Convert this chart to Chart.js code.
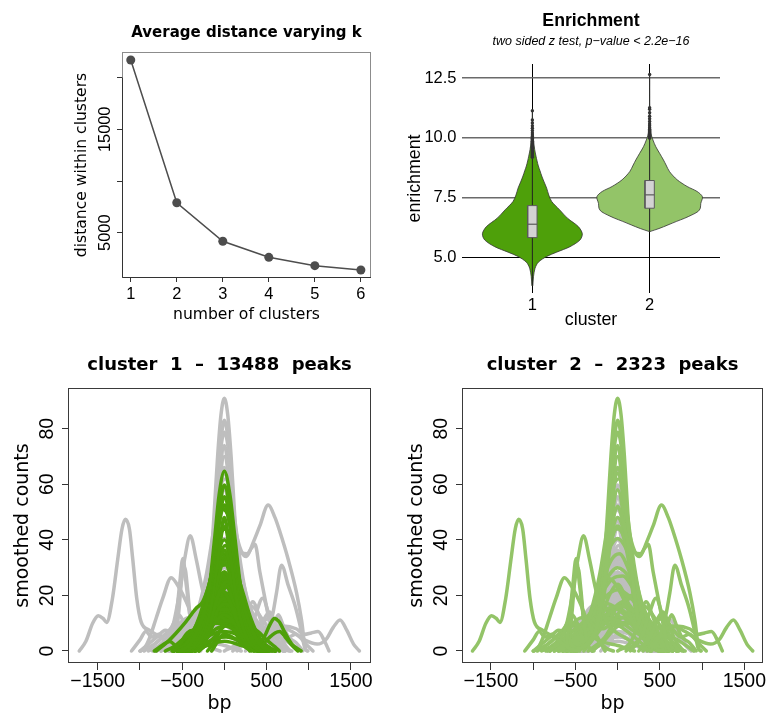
<!DOCTYPE html>
<html>
<head>
<meta charset="utf-8">
<script src="https://cdn.jsdelivr.net/npm/chart.js@4.4.1/dist/chart.umd.min.js"></script>
<style>
  body { margin: 0; background: #fff; }
  #wrap { position: relative; width: 771px; height: 718px; }
  #wrap canvas { position: absolute; }
</style>
</head>
<body>
<div id="wrap">
  <canvas id="elbow" width="385" height="340" style="left:0;top:0"></canvas>
  <canvas id="violin" width="386" height="340" style="left:385px;top:0"></canvas>
  <canvas id="peaks1" width="385" height="378" style="left:0;top:340px"></canvas>
  <canvas id="peaks2" width="386" height="378" style="left:385px;top:340px"></canvas>
</div>
<script>
// ---- elbow plot ----
const kValues = [1, 2, 3, 4, 5, 6];
const withinDistance = [21700, 7900, 4170, 2620, 1810, 1390];
const distanceTicks = [5000, 10000, 15000, 20000];
const distanceLabels = [5000, 15000];

// ---- enrichment violins ----
const clusterIds = [1, 2];
const enrichTicks = [5, 7.5, 10, 12.5];
const violinLevels1 = [3.8, 4.2, 4.54, 4.79, 5.03, 5.21, 5.44, 5.72, 5.98, 6.28, 6.63, 6.98, 7.33, 7.6, 7.89, 8.15, 8.4, 8.62, 8.82, 9.03, 9.23, 9.5, 9.8, 10.2, 10.6, 11.1];
const violinHalf1 = [0.004, 0.01, 0.023, 0.051, 0.122, 0.207, 0.321, 0.406, 0.426, 0.392, 0.3, 0.233, 0.165, 0.14, 0.122, 0.1, 0.08, 0.065, 0.051, 0.04, 0.031, 0.02, 0.012, 0.006, 0.003, 0];
const violinLevels2 = [6.07, 6.2, 6.35, 6.5, 6.63, 6.77, 6.91, 7.05, 7.25, 7.53, 7.75, 7.96, 8.24, 8.58, 8.86, 9.07, 9.35, 9.63, 9.91, 10.12, 10.5, 11.0, 11.5, 12.65];
const violinHalf2 = [0, 0.08, 0.156, 0.23, 0.298, 0.36, 0.412, 0.432, 0.436, 0.45, 0.405, 0.32, 0.235, 0.17, 0.14, 0.118, 0.085, 0.052, 0.028, 0.014, 0.006, 0.003, 0.001, 0];
// lower whisker, q1, median, q3, upper whisker
const boxStats1 = [3.8, 5.82, 6.38, 7.16, 9.15];
const boxStats2 = [6.07, 7.05, 7.61, 8.21, 9.95];
const outliers1 = [9.18, 9.22, 9.26, 9.3, 9.34, 9.38, 9.42, 9.46, 9.5, 9.55, 9.6, 9.65, 9.7, 9.75, 9.8, 9.86, 9.92, 9.98, 10.05, 10.12, 10.2, 10.3, 10.4, 10.5, 10.62, 10.75, 11.13];
const outliers2 = [9.98, 10.02, 10.06, 10.1, 10.15, 10.2, 10.25, 10.3, 10.36, 10.42, 10.5, 10.58, 10.68, 10.8, 10.9, 11.05, 11.2, 11.26, 12.65];

// ---- peak profiles (bp, smoothed count) ----
const peakTotals = [13488, 2323];
const bpTicks = [-1500, -1000, -500, 0, 500, 1000, 1500];
const bpLabels = [-1500, -500, 500, 1500];
const countTicks = [0, 20, 40, 60, 80];

const cluster1Profiles = [
  [[-550,0],[-420,2],[-295,9.4],[-190,20],[-115,40.5],[-63,56],[0,64.7],[67,56],[126,40.5],[206,20],[304,9.4],[430,2],[560,0]],
  [[-520,0],[-400,2],[-280,8.5],[-185,19],[-110,37],[-55,52],[0,59.7],[60,52],[120,37],[195,19],[290,8],[410,2],[530,0]],
  [[-480,0],[-360,2],[-250,9],[-170,20],[-100,36],[-50,49],[0,55.5],[55,49],[110,35],[180,19],[260,8.5],[370,2],[490,0]],
  [[-600,0],[-450,2.5],[-310,9],[-200,19],[-120,34],[-55,47],[0,52.5],[55,47],[125,34],[210,18],[320,8],[460,2],[610,0]],
  [[-450,0],[-330,2],[-230,8],[-150,18],[-80,33],[0,44.7],[80,33],[150,18],[230,8],[330,2],[450,0]],
  [[-500,0],[-360,3],[-250,9],[-160,19],[-80,30],[0,36.3],[80,30],[160,19],[250,9],[360,3],[500,0]],
  [[-420,0],[-300,3],[-200,10],[-110,22],[0,32],[110,22],[200,10],[300,3],[420,0]],
  [[-470,0],[-340,3],[-220,10],[-120,20],[0,28.5],[120,20],[220,10],[340,3],[470,0]],
  [[-400,0],[-280,3],[-170,10],[-70,20],[30,25],[130,20],[230,10],[330,3],[450,0]],
  [[-500,0],[-350,3],[-230,9],[-130,17],[-40,22],[60,18],[160,10],[280,3],[420,0]],
  [[-450,0],[-300,4],[-180,11],[-80,17],[0,19],[80,17],[180,11],[300,4],[450,0]],
  [[-380,0],[-250,4],[-140,11],[-50,16],[20,17],[100,14],[200,8],[320,2],[430,0]],
  [[-520,0],[-360,3],[-220,9],[-100,14],[0,15],[100,14],[220,9],[360,3],[520,0]],
  [[-350,0],[-230,4],[-120,10],[0,13],[120,10],[230,4],[350,0]],
  [[-600,0],[-420,2],[-250,7],[-100,10.5],[30,11],[160,9],[300,5],[450,1.5],[600,0]],
  [[-400,0],[-250,3],[-120,7.5],[0,9],[120,7.5],[250,3],[400,0]],
  [[-500,0],[-320,2.5],[-150,6],[0,7],[150,6],[320,2.5],[500,0]],
  [[-450,0],[-250,2.5],[-100,4.5],[20,5],[150,4],[300,1.5],[450,0]],
  [[-350,0],[-200,2],[0,3.5],[200,2],[350,0]],
  [[-440,0],[-310,3],[-200,10],[-100,21],[-20,27],[60,23],[150,13],[260,4],[400,0]],
  [[-350,0],[-220,4],[-110,12],[-20,21],[50,24],[130,19],[230,9],[340,2],[460,0]],
  [[-500,0],[-370,3],[-250,10],[-150,17],[-80,21],[10,18],[110,10],[230,3],[370,0]],
  [[-300,0],[-150,4],[0,9],[120,12],[240,8],[370,3],[500,0]],
  [[-810,0],[-690,2.8],[-573,6.4],[-454,10.6],[-336,15.3],[-257,17.7],[-180,24],[-110,34],[-50,42],[10,44],[80,37],[150,24],[230,11],[330,3],[450,0]],
  [[-830,0],[-740,2],[-650,3.4],[-560,1.5],[-480,0.5],[-400,0]],
  [[-620,0],[-520,3],[-440,6.5],[-375,7.5],[-320,5.5],[-260,6],[-180,11],[-100,20],[-30,26],[40,24],[120,14],[220,5],[330,1],[420,0]],
  [[-560,0],[-470,2],[-390,4.5],[-330,3.5],[-260,5],[-170,10],[-80,16],[0,18],[90,14],[190,6],[300,1.5],[400,0]],
  [[-200,0],[-100,4],[0,10],[100,8],[200,3],[300,0.5],[400,2],[480,5.5],[540,9.5],[593,11.7],[650,10.5],[720,6.5],[800,2.5],[910,0]],
  [[-150,0],[0,6],[150,4],[300,1],[420,1.5],[520,4.5],[600,6.5],[656,7],[720,5],[800,2],[870,0]],
  [[-350,0],[-200,5],[-80,14],[0,18],[100,15],[200,10],[300,9],[400,7],[500,4],[600,1.5],[652,0]],
  [[-700,0],[-600,1.5],[-500,4],[-400,6],[-300,8],[-200,12],[-100,16],[0,17],[100,12],[200,5],[320,0]],
  [[-480,0],[-330,4],[-210,12],[-110,22],[-30,27],[50,26],[140,18],[250,8],[380,2],[500,0]],
  [[-420,0],[-300,5],[-190,13],[-100,20],[0,24],[100,20],[190,13],[300,5],[420,0]],
  [[-550,0],[-400,4],[-260,10],[-140,17],[-40,20],[60,19],[170,12],[300,5],[450,0]],
  [[-380,0],[-260,6],[-150,15],[-60,23],[20,26],[100,22],[190,12],[290,4],[400,0]],
  [[-460,0],[-320,5],[-200,12],[-90,18],[10,21],[110,19],[220,13],[330,6],[460,0]],
  [[-400,0],[-280,6],[-170,14],[-70,19],[30,20],[130,16],[240,8],[360,2],[480,0]],
  [[-520,0],[-370,5],[-240,11],[-120,15],[0,16],[120,15],[240,11],[370,5],[520,0]],
  [[-350,0],[-230,5],[-130,11],[-30,14],[70,14],[170,11],[270,6],[380,0]],
  [[-600,0],[-450,3],[-300,8],[-150,12],[0,13],[150,12],[300,8],[450,3],[600,0]],
  [[-300,0],[-190,6],[-90,14],[0,19],[90,14],[190,6],[300,0]],
  [[-560,0],[-420,4],[-290,8],[-170,11],[-60,12],[60,11],[190,8],[330,4],[480,0]],
  [[-420,0],[-290,4],[-160,9],[-40,12],[80,12],[200,9],[320,4],[450,0]],
  [[-500,0],[-350,4],[-220,8],[-100,10],[20,10],[140,8],[270,4],[400,0]],
  [[-380,0],[-250,6],[-140,13],[-40,17],[60,16],[160,11],[270,5],[390,0]],
  [[-330,0],[-220,7],[-120,17],[-40,25],[40,27],[120,20],[210,10],[320,2],[430,0]],
  [[-450,0],[-300,8],[-180,16],[-80,22],[20,23],[120,18],[220,10],[340,3],[460,0]],
  [[-600,0],[-470,2],[-350,6],[-230,11],[-120,14],[0,14],[120,11],[240,7],[380,3],[520,0]],
  [[-500,0],[-360,3],[-240,7],[-130,10],[-20,11],[100,9],[220,5],[360,1.5],[480,0]],
  [[-460,0],[-330,3],[-220,10],[-140,22],[-70,35],[0,40],[70,35],[140,22],[220,10],[330,3],[460,0]],
  [[-430,0],[-310,3],[-200,11],[-120,24],[-55,34],[10,38],[80,32],[150,20],[240,8],[350,2],[460,0]],
  [[-500,0],[-350,3],[-230,10],[-140,21],[-60,30],[0,34],[70,30],[150,20],[240,9],[360,3],[500,0]],
  [[-450,0],[-320,3],[-210,10],[-130,23],[-60,38],[0,48],[60,38],[130,23],[210,10],[320,3],[450,0]],
  [[-560,0],[-420,4],[-300,12],[-200,22],[-110,31],[0,35],[110,31],[210,22],[310,12],[430,4],[570,0]],
  [[-520,0],[-380,5],[-260,14],[-160,24],[-70,30],[30,31],[130,27],[240,17],[360,7],[500,0]],
  [[-600,0],[-450,4],[-320,10],[-220,18],[-120,25],[-20,28],[90,26],[200,19],[320,10],[460,3],[600,0]],
  [[-480,0],[-350,6],[-240,16],[-150,28],[-70,40],[10,44],[90,39],[170,27],[260,14],[370,5],[490,0]],
  [[-500,0],[-370,5],[-250,13],[-160,26],[-90,42],[-20,51],[50,48],[130,33],[220,17],[330,6],[460,0]],
  [[-540,0],[-400,4],[-280,11],[-180,22],[-100,30],[0,33],[100,30],[190,22],[290,12],[410,4],[540,0]]
];

const cluster2Profiles = [
  [[-1719,0],[-1640,3.5],[-1560,10],[-1493,12.7],[-1440,11.8],[-1394,10.3],[-1325,19],[-1263,33],[-1212,44],[-1172,47.4],[-1125,44],[-1085,33],[-1038,19],[-986,10.5],[-890,7.5],[-730,4.5],[-570,1],[-450,0]],
  [[-600,0],[-350,3],[-220,12],[-130,32],[-65,56],[0,66],[65,58],[130,44],[200,36],[261,34],[341,39],[420,45],[519,52.5],[600,48],[657,43],[756,33],[855,21],[915,11],[960,1],[990,0]],
  [[-550,0],[-300,4],[-200,12],[-120,30],[-60,46],[0,52],[60,47],[130,38],[200,35.5],[270,35],[320,37],[363,38.4],[420,28.5],[480,19],[540,9.4],[600,1],[650,0]],
  [[-830,0],[-768,1],[-689,3.4],[-610,9],[-531,21],[-471,33],[-404,41.5],[-333,33],[-273,24],[-214,16.5],[-95,9],[103,4.5],[301,1],[400,0]],
  [[-990,0],[-946,1],[-887,4.6],[-808,11.8],[-729,19],[-630,26.4],[-531,22.5],[-451,17.7],[-372,11.8],[-253,4.6],[-135,1],[-50,0]],
  [[-680,0],[-610,2],[-570,11.8],[-531,23.7],[-491,33.3],[-451,23.7],[-404,11.8],[-352,2],[-300,0]],
  [[-640,0],[-580,3],[-540,14],[-505,26],[-470,30],[-435,22],[-400,10],[-350,2],[-280,0]],
  [[380,0],[459,3.4],[519,7],[578,14],[618,21],[677,30.9],[756,23.7],[836,16.5],[895,9.4],[954,1],[980,0]],
  [[350,0],[500,6],[650,9],[800,7],[950,4],[1100,2.5],[1200,4],[1290,8.5],[1370,11.2],[1450,7.5],[1530,2.5],[1600,0]],
  [[300,0],[500,5],[700,9],[850,8],[950,6],[1030,6.5],[1110,7],[1180,4],[1240,0]],
  [[0,0],[150,3],[250,10],[336,17.7],[420,12],[500,5],[600,0]],
  [[150,0],[280,5],[370,13],[454,19],[530,13],[620,5],[720,0]],
  [[-1100,0],[-1000,4],[-930,7],[-860,5],[-780,6],[-700,3.5],[-600,0]],
  [[-1000,0],[-900,2.5],[-800,5],[-700,7.5],[-620,6],[-540,2],[-480,0]],
  [[-800,0],[-700,4],[-600,10],[-540,13],[-460,9],[-380,6],[-300,7],[-220,4],[-150,0]],
  [[400,0],[500,4],[580,9],[640,13],[700,9],[760,5],[850,3],[930,0]],
  [[250,0],[400,6],[480,12],[540,14],[600,10],[680,4],[780,0]],
  [[-550,0],[-420,1],[-300,5],[-220,15],[-160,32],[-120,50],[-80,70],[-40,85],[0,91],[40,85],[80,70],[120,50],[160,32],[220,15],[300,5],[420,1],[550,0]],
  [[-500,0],[-380,2],[-270,7],[-190,18],[-130,38],[-80,60],[-40,76],[0,83],[40,77],[85,60],[140,38],[200,20],[280,8],[390,2],[500,0]],
  [[-520,0],[-400,1.5],[-290,6],[-200,17],[-140,35],[-90,55],[-45,72],[0,78.7],[45,73],[95,55],[150,35],[215,18],[300,7],[410,1.5],[520,0]],
  [[-480,0],[-330,4],[-220,13],[-140,32],[-70,53],[0,63.9],[70,54],[140,33],[220,14],[330,4],[480,0]],
  [[-520,0],[-360,4],[-240,13],[-150,28],[-70,40],[0,45],[70,41],[150,29],[240,14],[360,4],[520,0]],
  [[-600,0],[-420,6],[-280,17],[-170,31],[-80,38],[0,40.5],[80,38],[170,31],[280,18],[420,6],[600,0]],
  [[-650,0],[-450,6],[-300,15],[-150,25],[0,30],[150,26],[300,16],[450,6],[650,0]],
  [[-700,0],[-500,5],[-320,12],[-160,19],[0,22],[160,19],[320,12],[500,5],[700,0]],
  [[-750,0],[-550,4],[-350,10],[-150,15],[50,16],[250,13],[450,7],[650,2],[800,0]],
  [[-800,0],[-600,4],[-400,9],[-200,12],[0,11],[200,7],[400,3],[600,0]],
  [[-600,0],[-400,5],[-250,14],[-100,26],[50,20],[200,9],[380,2],[500,0]],
  [[-350,0],[-150,5],[0,13],[150,20],[300,14],[450,5],[600,0]],
  [[-900,0],[-700,3],[-500,8],[-300,12],[-150,10],[0,9],[150,11],[300,8],[500,3],[700,0]],
  [[-600,0],[-450,5],[-320,11],[-200,9],[-80,14],[50,12],[200,15],[350,9],[500,4],[650,0]],
  [[-1000,0],[-850,2],[-700,6],[-550,10],[-420,8],[-300,5],[-150,3],[0,2],[200,0]],
  [[100,0],[250,4],[400,9],[550,12],[650,8],[750,5],[850,6],[950,3],[1050,0]],
  [[-520,0],[-390,2],[-280,7],[-200,17],[-130,36],[-70,58],[0,74],[70,58],[135,36],[205,17],[290,7],[400,2],[530,0]],
  [[-540,0],[-400,2],[-290,7],[-200,16],[-140,32],[-80,53],[0,70],[80,54],[145,33],[215,16],[300,6],[420,1.5],[550,0]],
  [[-500,0],[-370,3],[-260,9],[-170,22],[-90,43],[0,58],[90,44],[170,23],[260,9],[370,3],[500,0]],
  [[-560,0],[-400,4],[-280,12],[-170,26],[-80,41],[0,48],[80,42],[170,27],[280,12],[400,4],[560,0]],
  [[-600,0],[-430,5],[-300,13],[-180,25],[-70,33],[20,35],[120,30],[230,19],[360,8],[500,2],[620,0]],
  [[-650,0],[-470,5],[-320,12],[-180,21],[-60,26],[60,27],[190,22],[330,13],[480,5],[650,0]],
  [[-750,0],[-600,3],[-450,8],[-320,14],[-200,16],[-80,13],[50,10],[200,12],[350,8],[520,3],[700,0]],
  [[-700,0],[-560,4],[-420,10],[-300,13],[-180,11],[-60,15],[80,18],[220,13],[370,6],[540,2],[700,0]],
  [[-500,0],[-360,5],[-240,12],[-120,17],[0,15],[130,12],[260,10],[400,7],[560,3],[720,0]],
  [[-850,0],[-700,4],[-560,9],[-430,12],[-300,10],[-170,12],[-40,16],[90,14],[220,9],[380,4],[540,0]],
  [[-400,0],[-250,6],[-100,12],[40,17],[180,19],[320,14],[460,7],[620,2],[760,0]],
  [[-650,0],[-500,4],[-360,9],[-230,13],[-100,11],[40,9],[180,13],[320,16],[460,11],[620,4],[780,0]],
  [[-950,0],[-800,3],[-660,7],[-520,9],[-380,7],[-250,9],[-120,11],[20,9],[160,6],[320,2],[480,0]],
  [[-300,0],[-150,4],[0,9],[150,10],[300,12],[450,9],[600,6],[760,3],[900,0]],
  [[-550,0],[-420,5],[-300,9],[-180,8],[-60,10],[60,12],[180,9],[300,5],[450,1],[580,0]],
  [[-620,0],[-480,3],[-350,6],[-220,10],[-100,20],[0,24],[100,19],[220,10],[350,5],[500,0]],
  [[-600,0],[-450,5],[-320,14],[-210,28],[-120,45],[-40,60],[30,62],[110,50],[200,30],[300,14],[430,4],[580,0]],
  [[-580,0],[-430,4],[-300,12],[-200,24],[-110,38],[0,44],[110,38],[200,25],[300,12],[430,4],[580,0]]
];

const darkGreen = '#4ea00a';
const lightGreen = '#93c468';
const grey = '#bebebe';
const WORD = "'DejaVu Sans', sans-serif";
const NUM = "'Liberation Sans', Arial, sans-serif";
const GG = "'Liberation Sans', Arial, sans-serif";

const minus = v => (v < 0 ? '\u2212' + Math.abs(v) : String(v));

// titles, tick labels and axis names drawn around the chart area
function decor(cfg) {
  return {
    id: 'decor',
    afterDraw(chart) {
      const {ctx, chartArea: a} = chart;
      const sx = chart.scales.x, sy = chart.scales.y;
      const mid = (a.left + a.right) / 2, half = (a.top + a.bottom) / 2;
      const put = (s, px, py, font, rotate, align) => {
        ctx.save();
        ctx.translate(px, py);
        if (rotate) ctx.rotate(-Math.PI / 2);
        ctx.font = font;
        ctx.fillStyle = '#000';
        ctx.textAlign = align || 'center';
        ctx.textBaseline = align === 'right' ? 'middle' : 'alphabetic';
        ctx.fillText(s, 0, 0);
        ctx.restore();
      };
      ctx.save();
      ctx.lineWidth = 1;
      if (cfg.frame) {
        ctx.strokeStyle = cfg.frame;
        ctx.strokeRect(a.left + 0.5, a.top + 0.5, a.width - 1, a.height - 1);
      }
      if (cfg.axisTop !== undefined) {
        ctx.strokeStyle = '#333';
        ctx.beginPath();
        ctx.moveTo(a.left + 0.5, sy.getPixelForValue(cfg.axisTop));
        ctx.lineTo(a.left + 0.5, a.bottom - 0.5);
        ctx.lineTo(a.right, a.bottom - 0.5);
        ctx.stroke();
      }
      ctx.restore();
      if (cfg.title) put(cfg.title.text, mid, cfg.title.y, cfg.title.font);
      if (cfg.sub) put(cfg.sub.text, mid, cfg.sub.y, cfg.sub.font);
      cfg.xLab.values.forEach((v, i) =>
        put(cfg.xLab.text[i], sx.getPixelForValue(v), a.bottom + cfg.xLab.dy, cfg.xLab.font));
      cfg.yLab.values.forEach((v, i) =>
        put(cfg.yLab.text[i], a.left - cfg.yLab.dx, sy.getPixelForValue(v), cfg.yLab.font,
            cfg.yLab.rotate, cfg.yLab.rotate ? 'center' : 'right'));
      put(cfg.xName.text, mid, a.bottom + cfg.xName.dy, cfg.xName.font);
      put(cfg.yName.text, a.left - cfg.yName.dx, half, cfg.yName.font, true);
    }
  };
}

// R style axis: ticks outside, no grid in the plot region
function rAxis(min, max, ticks, tickLength) {
  return {
    type: 'linear', min, max,
    afterBuildTicks: s => { s.ticks = ticks.map(value => ({value})); },
    afterFit: s => { if (s.isHorizontal()) s.height = 0; else s.width = 0; },
    ticks: { display: false },
    border: { display: false },
    grid: { drawOnChartArea: false, drawTicks: true, tickLength, color: '#333', lineWidth: 1 }
  };
}

const baseOptions = padding => ({
  responsive: false,
  animation: false,
  events: [],
  layout: { padding },
  plugins: { legend: { display: false }, tooltip: { enabled: false } }
});

// ---- top left ----
new Chart(document.getElementById('elbow'), {
  type: 'scatter',
  data: {
    datasets: [{
      data: kValues.map((k, i) => ({x: k, y: withinDistance[i]})),
      showLine: true,
      borderColor: '#4d4d4d',
      borderWidth: 1.5,
      pointRadius: 4.5,
      pointBackgroundColor: '#4d4d4d',
      pointBorderWidth: 0
    }]
  },
  options: Object.assign(baseOptions({left: 122, top: 52, right: 14, bottom: 62}), {
    scales: {
      x: rAxis(0.81, 6.22, kValues, 4),
      y: rAxis(619, 22476, distanceTicks, 5)
    }
  }),
  plugins: [decor({
    frame: '#8c8c8c',
    axisTop: 20000,
    title: {text: 'Average distance varying k', font: 'bold 15px ' + WORD, y: 37},
    xLab: {values: kValues, text: kValues.map(String), font: '16.4px ' + NUM, dy: 21},
    yLab: {values: distanceLabels, text: distanceLabels.map(String), font: '16.4px ' + NUM, dx: 12, rotate: true},
    xName: {text: 'number of clusters', font: '15.6px ' + WORD, dy: 41},
    yName: {text: 'distance within clusters', font: '15.6px ' + WORD, dx: 36}
  })]
});

// ---- top right ----
const boxHalf = 0.04;
function violinShape(c, levels, half) {
  const right = levels.map((y, i) => ({x: c + half[i], y}));
  const left = levels.map((y, i) => ({x: c - half[i], y})).reverse();
  return right.concat(left);
}
function boxShape(c, s) {
  return [
    {x: c - boxHalf, y: s[1]}, {x: c + boxHalf, y: s[1]},
    {x: c + boxHalf, y: s[3]}, {x: c - boxHalf, y: s[3]}, {x: c - boxHalf, y: s[1]}
  ];
}
const shapeSet = (data, fillColor, lineColor, width, tension, order) => ({
  data, showLine: true, fill: 'shape', backgroundColor: fillColor, borderColor: lineColor,
  borderWidth: width, pointRadius: 0, tension, order
});
const segSet = (data, color, width, order) => ({
  data, showLine: true, fill: false, borderColor: color, borderWidth: width, pointRadius: 0, order
});
const violinStats = [boxStats1, boxStats2];
const violinOutliers = [outliers1, outliers2];

new Chart(document.getElementById('violin'), {
  type: 'scatter',
  data: {
    datasets: [
      shapeSet(violinShape(1, violinLevels1, violinHalf1), darkGreen, '#333', 0.8, 0.3, 6),
      shapeSet(violinShape(2, violinLevels2, violinHalf2), lightGreen, '#333', 0.8, 0.3, 6),
      ...clusterIds.map((c, i) => segSet([{x: c, y: violinStats[i][0]}, {x: c, y: violinStats[i][4]}], '#222', 1, 5)),
      ...clusterIds.map((c, i) => shapeSet(boxShape(c, violinStats[i]), '#d3d3d3', '#5a5a5a', 1, 0, 4)),
      ...clusterIds.map((c, i) => segSet([{x: c - boxHalf, y: violinStats[i][2]}, {x: c + boxHalf, y: violinStats[i][2]}], '#5a5a5a', 1.2, 3)),
      ...clusterIds.map((c, i) => ({
        data: violinOutliers[i].map(v => ({x: c, y: v})),
        pointRadius: 1.7, pointBackgroundColor: '#333', pointBorderWidth: 0, order: 1
      }))
    ]
  },
  options: Object.assign(baseOptions({left: 77, top: 64, right: 51, bottom: 47}), {
    scales: {
      x: {
        type: 'linear', min: 0.4, max: 2.6,
        afterBuildTicks: s => { s.ticks = clusterIds.map(value => ({value})); },
        afterFit: s => { s.height = 0; },
        ticks: { display: false },
        border: { display: false },
        grid: { color: '#000', lineWidth: 1, drawTicks: false }
      },
      y: {
        type: 'linear', min: 3.5, max: 13.09,
        afterBuildTicks: s => { s.ticks = enrichTicks.map(value => ({value})); },
        afterFit: s => { s.width = 0; },
        ticks: { display: false },
        border: { display: false },
        grid: {
          color: c => (c.tick && c.tick.value === 5 ? '#000' : '#6a6a6a'),
          lineWidth: c => (c.tick && c.tick.value === 5 ? 1 : 1.5),
          drawTicks: false
        }
      }
    }
  }),
  plugins: [decor({
    title: {text: 'Enrichment', font: 'bold 17.7px ' + GG, y: 26},
    sub: {text: 'two sided z test, p\u2212value < 2.2e\u221216', font: 'italic 12.5px ' + GG, y: 45},
    xLab: {values: clusterIds, text: clusterIds.map(String), font: '16.5px ' + GG, dy: 17},
    yLab: {values: enrichTicks, text: enrichTicks.map(v => v.toFixed(1)), font: '16.5px ' + GG, dx: 5.5},
    xName: {text: 'cluster', font: '17.8px ' + GG, dy: 32},
    yName: {text: 'enrichment', font: '17.8px ' + GG, dx: 42}
  })]
});

// ---- bottom panels ----
const profileSets = (profiles, color, order) => profiles.map(p => ({
  data: p.map(([x, y]) => ({x, y})),
  showLine: true, fill: false, borderColor: color, borderWidth: 3.5, pointRadius: 0,
  cubicInterpolationMode: 'monotone', borderCapStyle: 'round', borderJoinStyle: 'round', order
}));

function peakPanel(id, n, own, other, color, padding, xMin, xMax) {
  new Chart(document.getElementById(id), {
    type: 'scatter',
    data: { datasets: [...profileSets(other, grey, 2), ...profileSets(own, color, 1)] },
    options: Object.assign(baseOptions(padding), {
      scales: {
        x: rAxis(xMin, xMax, bpTicks, 7),
        y: rAxis(-4.32, 94.65, countTicks, 6)
      }
    }),
    plugins: [decor({
      frame: '#3a3a3a',
      title: {text: 'cluster  ' + n + '  \u2013  ' + peakTotals[n - 1] + '  peaks', font: 'bold 18px ' + WORD, y: 30},
      xLab: {values: bpLabels, text: bpLabels.map(minus), font: '19.5px ' + NUM, dy: 24},
      yLab: {values: countTicks, text: countTicks.map(String), font: '19.5px ' + NUM, dx: 15, rotate: true},
      xName: {text: 'bp', font: '19px ' + WORD, dy: 45.5},
      yName: {text: 'smoothed counts', font: '19px ' + WORD, dx: 40}
    })]
  });
}

peakPanel('peaks1', 1, cluster1Profiles, cluster2Profiles, darkGreen, {left: 68, top: 48, right: 14, bottom: 55}, -1852, 1737);
peakPanel('peaks2', 2, cluster2Profiles, cluster1Profiles, lightGreen, {left: 77, top: 48, right: 8, bottom: 55}, -1843, 1721);
</script>
</body>
</html>
